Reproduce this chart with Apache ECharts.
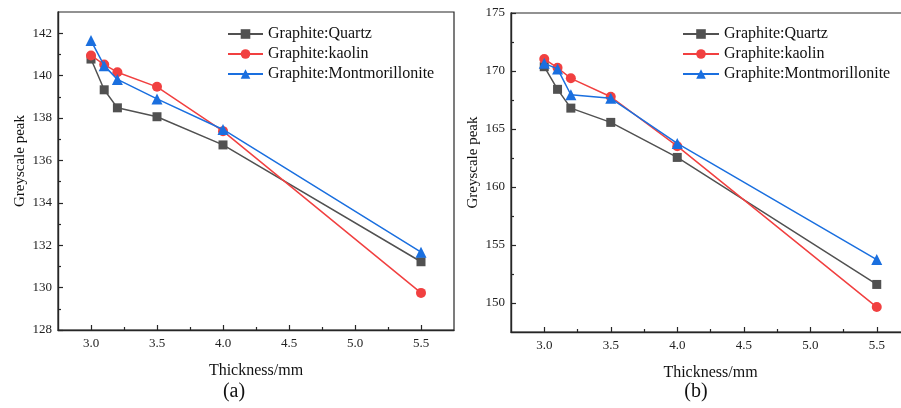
<!DOCTYPE html>
<html>
<head>
<meta charset="utf-8">
<script src="https://cdn.jsdelivr.net/npm/echarts@6/dist/echarts.min.js"></script>
<style>html,body{margin:0;padding:0;background:#fff}#c{width:901px;height:408px}</style>
</head>
<body>
<div id="c"></div>
<script>
const thickness = [3.0, 3.1, 3.2, 3.5, 4.0, 5.5];
const seriesNames = ['Graphite:Quartz', 'Graphite:kaolin', 'Graphite:Montmorillonite'];
const quartzA = [140.78, 139.33, 138.48, 138.06, 136.73, 131.22];
const kaolinA = [140.95, 140.52, 140.16, 139.47, 137.38, 129.75];
const montA   = [141.65, 140.47, 139.82, 138.90, 137.46, 131.67];
const quartzB = [170.37, 168.42, 166.80, 165.57, 162.55, 151.60];
const kaolinB = [171.04, 170.28, 169.37, 167.78, 163.52, 149.65];
const montB   = [170.66, 170.18, 167.95, 167.65, 163.76, 153.74];
const xTicks = [3.0, 3.5, 4.0, 4.5, 5.0, 5.5];
const xMinor = [3.25, 3.75, 4.25, 4.75, 5.25];
const yTicksA = [128, 130, 132, 134, 136, 138, 140, 142];
const yMinorA = [129, 131, 133, 135, 137, 139, 141];
const yTicksB = [150, 155, 160, 165, 170, 175];
const yMinorB = [152.5, 157.5, 162.5, 167.5, 172.5];
const panelLabels = ['(a)', '(b)'];
const xTitle = 'Thickness/mm';
const yTitle = 'Greyscale peak';

const FONT = '"Liberation Serif", "Times New Roman", serif';
const AX = '#262626';
const colors = ['#515151', '#F14040', '#1A6FDF'];
const symbols = ['rect', 'circle', 'triangle'];
const symSizes = [9, 10, 11];

const chart = echarts.init(document.getElementById('c'), null, {renderer: 'canvas'});

const grids = [
  {left: 58, width: 396, top: 12, height: 318},
  {left: 511, width: 399, top: 13, height: 319}
];
const xRange = [2.75, 5.75];
const yRanges = [[128, 143], [147.5, 175]];
const yMajors = [yTicksA, yTicksB];
const yMinors = [yMinorA, yMinorB];

const gridOpt = [], xAxes = [], yAxes = [], series = [], legends = [];
grids.forEach((g, i) => {
  gridOpt.push(Object.assign({show: true, borderColor: AX, borderWidth: 1.2, backgroundColor: 'transparent', outerBoundsMode: 'none', containLabel: false}, g));
  gridOpt.push(Object.assign({show: false, outerBoundsMode: 'none', containLabel: false}, g));
  const mainIdx = gridOpt.length - 2, minorIdx = gridOpt.length - 1;
  xAxes.push({
    type: 'value', gridIndex: mainIdx, min: xRange[0], max: xRange[1],
    name: xTitle, nameLocation: 'middle', nameGap: 33,
    nameTextStyle: {fontFamily: FONT, fontSize: 16, color: '#111'},
    axisLine: {show: true, lineStyle: {color: AX, width: 1.4}},
    axisTick: {show: true, inside: true, length: 5, customValues: xTicks, lineStyle: {color: AX, width: 1.2}},
    axisLabel: {show: true, customValues: xTicks, margin: 7, fontFamily: FONT, fontSize: 13, color: '#222',
      formatter: v => Number(v).toFixed(1)},
    splitLine: {show: false}
  });
  yAxes.push({
    type: 'value', gridIndex: mainIdx, min: yRanges[i][0], max: yRanges[i][1],
    name: yTitle, nameLocation: 'middle', nameGap: 30,
    nameTextStyle: {fontFamily: FONT, fontSize: 15, color: '#111', padding: [0, 0, 0, 20]},
    axisLine: {show: true, lineStyle: {color: AX, width: 1.4}},
    axisTick: {show: true, inside: true, length: 5, customValues: yMajors[i], lineStyle: {color: AX, width: 1.2}},
    axisLabel: {show: true, customValues: yMajors[i], margin: 6, fontFamily: FONT, fontSize: 13, color: '#222'},
    splitLine: {show: false}
  });
  xAxes.push({
    type: 'value', gridIndex: minorIdx, min: xRange[0], max: xRange[1],
    axisLine: {show: false}, axisLabel: {show: false}, splitLine: {show: false},
    axisTick: {show: true, inside: true, length: 3, customValues: xMinor, lineStyle: {color: AX, width: 1.2}}
  });
  yAxes.push({
    type: 'value', gridIndex: minorIdx, min: yRanges[i][0], max: yRanges[i][1],
    axisLine: {show: false}, axisLabel: {show: false}, splitLine: {show: false},
    axisTick: {show: true, inside: true, length: 3, customValues: yMinors[i], lineStyle: {color: AX, width: 1.2}}
  });
  const sets = i === 0 ? [quartzA, kaolinA, montA] : [quartzB, kaolinB, montB];
  sets.forEach((vals, k) => {
    series.push({
      name: seriesNames[k], type: 'line', xAxisIndex: mainIdx, yAxisIndex: mainIdx,
      data: thickness.map((t, j) => [t, vals[j]]),
      symbol: symbols[k], symbolSize: symSizes[k], showSymbol: true,
      itemStyle: {color: colors[k]}, lineStyle: {color: colors[k], width: 1.5},
      emphasis: {disabled: true}, animation: false, z: 2 + k
    });
  });
});

legends.push({left: 222, top: 21, orient: 'vertical', itemWidth: 35, itemHeight: 12, itemGap: 4,
  textStyle: {fontFamily: FONT, fontSize: 16, color: '#111'}, data: seriesNames, selectedMode: false});
legends.push({left: 677, top: 21, orient: 'vertical', itemWidth: 36, itemHeight: 12, itemGap: 4,
  textStyle: {fontFamily: FONT, fontSize: 16, color: '#111'}, data: seriesNames, selectedMode: false});

const graphics = [
  {type: 'text', x: 234, y: 392, style: {text: panelLabels[0], font: '20px ' + FONT, fill: '#111', align: 'center', verticalAlign: 'middle'}},
  {type: 'text', x: 696, y: 392, style: {text: panelLabels[1], font: '20px ' + FONT, fill: '#111', align: 'center', verticalAlign: 'middle'}}
];

chart.setOption({
  animation: false,
  backgroundColor: '#fff',
  grid: gridOpt, xAxis: xAxes, yAxis: yAxes, series: series, legend: legends, graphic: graphics
});
</script>
</body>
</html>
